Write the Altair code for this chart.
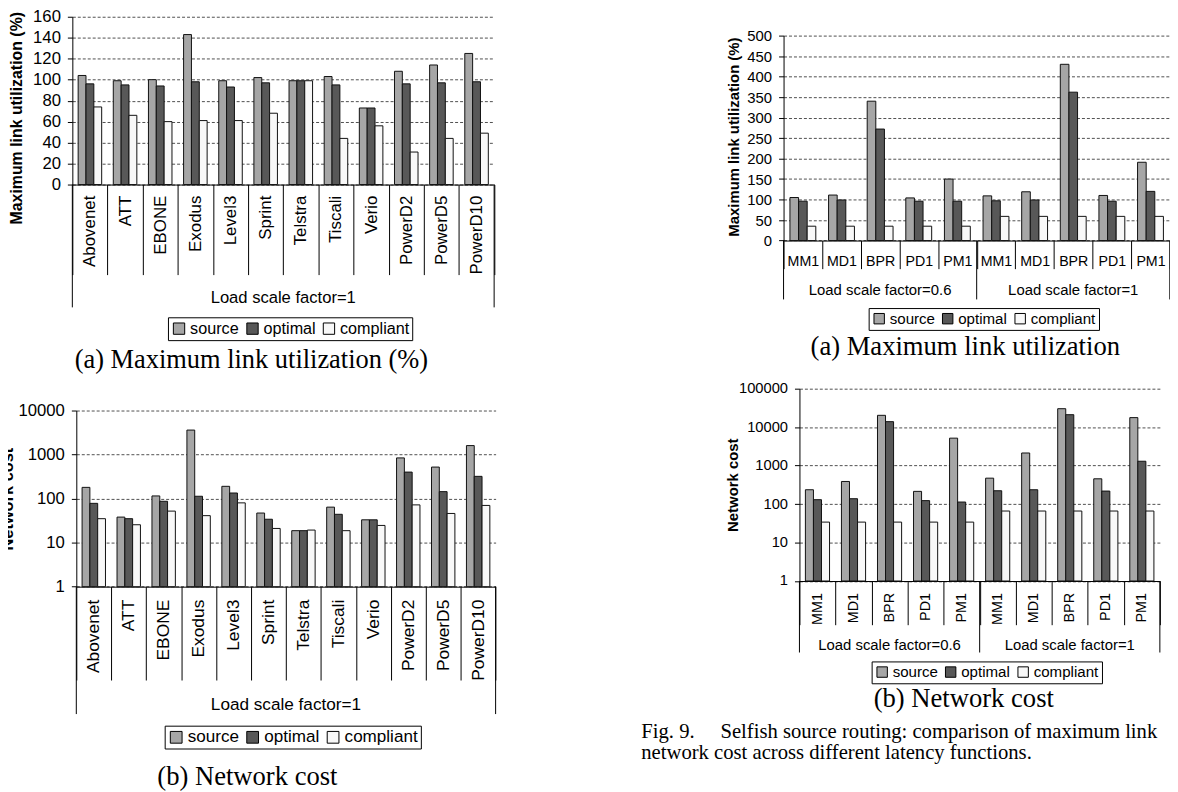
import altair as alt
import pandas as pd

SANS = "Liberation Sans"
SERIF = "Liberation Serif"

series = ["source", "optimal", "compliant"]
series_colors = ["#a6a6a6", "#585858", "#f8f8f8"]

# Left column: topologies, load scale factor = 1
topologies = ["Abovenet", "ATT", "EBONE", "Exodus", "Level3", "Sprint",
              "Telstra", "Tiscali", "Verio", "PowerD2", "PowerD5", "PowerD10"]
topo_util_source = [104, 99, 100, 143, 99, 102, 99, 103, 73, 108, 114, 125]
topo_util_optimal = [96, 95, 94, 98, 93, 97, 99, 95, 73, 96, 97, 98]
topo_util_compliant = [74, 66, 60, 61, 61, 68, 99, 44, 56, 31, 44, 49]
topo_cost_source = [180, 38, 115, 3600, 190, 47, 18.7, 64, 33, 840, 520, 1600]
topo_cost_optimal = [78, 35, 87, 113, 134, 34, 18.7, 44, 33, 400, 144, 320]
topo_cost_compliant = [35, 25.5, 52, 41, 80, 21, 19.3, 18.7, 24.6, 72, 46, 70]

# Right column: latency functions at two load scale factors
latency_functions = ["MM1", "MD1", "BPR", "PD1", "PM1"]
load_factors = ["0.6", "1"]
lat_util_source = [105, 111, 340, 104, 150, 109, 119, 430, 110, 191]
lat_util_optimal = [96, 99, 272, 96, 96, 97, 99, 362, 96, 120]
lat_util_compliant = [35, 35, 35, 35, 35, 59, 59, 59, 59, 59]
lat_cost_source = [236, 387, 20300, 214, 5180, 472, 2130, 30200, 454, 17700]
lat_cost_optimal = [130, 138, 13900, 123, 113, 222, 236, 21100, 218, 1300]
lat_cost_compliant = [34, 34, 34, 34, 34, 66, 66, 66, 66, 66]

lat_keys = [f"{lf}|{fn}" for lf in load_factors for fn in latency_functions]

NB = "\u00a0"
fig_line1 = "Fig. 9." + NB * 5 + "Selfish source routing: comparison of maximum link"
fig_line2 = "network cost across different latency functions."


def panel(keys, src, opt, cmp_, c):
    rows = []
    for k, a, b, d in zip(keys, src, opt, cmp_):
        for s_, v in zip(series, (a, b, d)):
            rows.append({"cat": k, "series": s_, "value": v})
    df = pd.DataFrame(rows)

    x_scale = alt.Scale(domain=keys, range=c["x_range"], paddingInner=0, paddingOuter=0)
    axis_kw = dict(title=None, labelAngle=c["lab_angle"], labelAlign=c["lab_align"],
                   labelBaseline="middle", labelFont=SANS, labelFontSize=c["lab_size"],
                   labelColor="black", labelPadding=c["lab_pad"], labelOverlap=False,
                   labelLimit=0, tickBand="extent", tickSize=c["sep_len"],
                   tickColor="black", tickWidth=1, domainColor="black", domainWidth=1,
                   grid=False)
    if c.get("label_expr"):
        axis_kw["labelExpr"] = c["label_expr"]
    y_kw = dict(domain=c["y_domain"], range=c["y_range"], nice=False)
    if c["log"]:
        y_kw["type"] = "log"
    y_axis = alt.Axis(values=c["y_ticks"], format="d", offset=c["y_offset"],
                      labelFont=SANS, labelFontSize=c["y_lab_size"], labelColor="black",
                      labelPadding=7, tickSize=5, tickColor="black", tickWidth=1,
                      domainColor="black", domainWidth=1, grid=True, gridColor="#3c3c3c",
                      gridDash=[3, 2], gridWidth=0.9,
                      titleFont=SANS, titleFontSize=c["y_title_size"], titleFontWeight="bold",
                      titleColor="black", titleAngle=270, titleBaseline="alphabetic",
                      titleAlign="center", titleX=c["y_title_x"], titleY=c["y_title_y"])
    legend = alt.Legend(orient="none", legendX=c["leg_x"], legendY=c["leg_y"],
                        direction="horizontal", columns=3, title=None,
                        strokeColor="black", fillColor="white", padding=3,
                        cornerRadius=0, symbolType="square", symbolSize=c["leg_sym"],
                        symbolStrokeColor="black", symbolStrokeWidth=1,
                        labelFont=SANS, labelFontSize=c["leg_size"], labelColor="black",
                        labelOffset=3, columnPadding=5, labelLimit=0)

    bars = alt.Chart(df).mark_bar(stroke="#111111", strokeWidth=1).encode(
        x=alt.X("cat:N", scale=x_scale, axis=alt.Axis(**axis_kw), title=None),
        xOffset=alt.XOffset("series:N", sort=series,
                            scale=alt.Scale(domain=series, paddingInner=0, paddingOuter=0.74)),
        y=alt.Y("value:Q", scale=alt.Scale(**y_kw), axis=y_axis, title=c["y_title"], stack=None),
        color=alt.Color("series:N", scale=alt.Scale(domain=series, range=series_colors),
                        legend=legend),
    )

    h = c["plot_bottom"]
    starts = alt.Chart(pd.DataFrame({"cat": c["group_first"]})).mark_rule(
        color="black", strokeWidth=1).encode(
        x=alt.X("cat:N", scale=x_scale, bandPosition=0, title=None),
        y=alt.value(h), y2=alt.value(h + c["grp_len"]))
    ends = alt.Chart(pd.DataFrame({"cat": [keys[-1]]})).mark_rule(
        color="black", strokeWidth=1).encode(
        x=alt.X("cat:N", scale=x_scale, bandPosition=1, title=None),
        y=alt.value(h), y2=alt.value(h + c["grp_len"]))
    glabels = alt.Chart(pd.DataFrame({"cat": c["group_mid"], "label": c["group_labels"]})).mark_text(
        font=SANS, fontSize=c["grp_size"], color="black", align="center", baseline="middle").encode(
        x=alt.X("cat:N", scale=x_scale, bandPosition=c["group_band"], title=None),
        y=alt.value(c["grp_y"]), text="label:N")

    layers = [bars, starts, ends, glabels]
    for txt, tx, ty, size, align in c["texts"]:
        layers.append(
            alt.Chart(pd.DataFrame({"t": [txt]})).mark_text(
                font=SERIF, fontSize=size, color="black", align=align, baseline="middle").encode(
                x=alt.value(tx), y=alt.value(ty), text="t:N"))
    return alt.layer(*layers).properties(width=c["w"], height=c["h"])


A1 = panel(topologies, topo_util_source, topo_util_optimal, topo_util_compliant, dict(
    w=424.8, h=169, x_range=[0, 424.8], y_range=[169, 0], plot_bottom=169,
    log=False, y_domain=[0, 160], y_ticks=list(range(0, 161, 20)), y_offset=0,
    y_lab_size=16.8, y_title="Maximum link utilization (%)", y_title_size=16,
    y_title_x=-51.7, y_title_y=101.7,
    lab_angle=-90, lab_align="right", lab_size=17, lab_pad=-80, sep_len=90.7,
    grp_len=123.7, grp_y=283.7, grp_size=16.7,
    group_first=["Abovenet"], group_mid=["Telstra"], group_labels=["Load scale factor=1"], group_band=0,
    leg_x=96.3, leg_y=302.7, leg_size=16.3, leg_sym=130,
    texts=[("(a) Maximum link utilization (%)", 180.3, 345.7, 26.6, "center")],
))

B1 = panel(topologies, topo_cost_source, topo_cost_optimal, topo_cost_compliant, dict(
    w=426.3, h=199.4, x_range=[4, 426.3], y_range=[199.4, 22], plot_bottom=199.4,
    log=True, y_domain=[1, 10000], y_ticks=[1, 10, 100, 1000, 10000], y_offset=-4,
    y_lab_size=16.8, y_title="Network cost", y_title_size=16.5,
    y_title_x=-64.7, y_title_y=110.7,
    lab_angle=-90, lab_align="right", lab_size=17.5, lab_pad=-81.4, sep_len=94,
    grp_len=128.3, grp_y=318.4, grp_size=17.3,
    group_first=["Abovenet"], group_mid=["Telstra"], group_labels=["Load scale factor=1"], group_band=0,
    leg_x=93, leg_y=339.4, leg_size=17.2, leg_sym=140,
    texts=[("(b) Network cost", 176.3, 391.0, 26.8, "center")],
))

A2 = panel(lat_keys, lat_util_source, lat_util_optimal, lat_util_compliant, dict(
    w=389, h=225.4, x_range=[0, 389], y_range=[225.4, 19], plot_bottom=225.4,
    log=False, y_domain=[0, 500], y_ticks=list(range(0, 501, 50)), y_offset=0,
    y_lab_size=15, y_title="Maximum link utilization (%)", y_title_size=15,
    y_title_x=-45.3, y_title_y=120.7,
    lab_angle=0, lab_align="center", lab_size=14.3, lab_pad=-7, sep_len=28.3,
    label_expr="split(datum.label, '|')[1]",
    grp_len=59.3, grp_y=275.7, grp_size=15,
    group_first=["0.6|MM1", "1|MM1"], group_mid=["0.6|BPR", "1|BPR"],
    group_labels=["Load scale factor=0.6", "Load scale factor=1"], group_band=0.5,
    leg_x=85.7, leg_y=293.4, leg_size=15.2, leg_sym=110,
    texts=[("(a) Maximum link utilization", 183, 332.7, 26.8, "center")],
))

B2 = panel(lat_keys, lat_cost_source, lat_cost_optimal, lat_cost_compliant, dict(
    w=379, h=193.7, x_range=[16, 379], y_range=[193.7, 0], plot_bottom=193.7,
    log=True, y_domain=[1, 100000], y_ticks=[1, 10, 100, 1000, 10000, 100000], y_offset=-16,
    y_lab_size=14.8, y_title="Network cost", y_title_size=15,
    y_title_x=-62.3, y_title_y=96.7,
    lab_angle=-90, lab_align="right", lab_size=14.5, lab_pad=-32.5, sep_len=44,
    label_expr="split(datum.label, '|')[1]",
    grp_len=72, grp_y=257.7, grp_size=15,
    group_first=["0.6|MM1", "1|MM1"], group_mid=["0.6|BPR", "1|BPR"],
    group_labels=["Load scale factor=0.6", "Load scale factor=1"], group_band=0.5,
    leg_x=88.7, leg_y=274.7, leg_size=15.2, leg_sym=110,
    texts=[("(b) Network cost", 181.5, 312.7, 26.8, "center"),
           (fig_line1, -143.3, 345.6, 20.8, "left"),
           (fig_line2, -143.3, 367.4, 20.8, "left")],
))

chart = alt.concat(
    A1, A2, B1, B2, columns=2,
    spacing={"row": 148.6, "column": 289.3}, bounds="flush", align="each",
).resolve_scale(
    x="independent", y="independent", color="independent", xOffset="independent"
).resolve_axis(
    x="independent", y="independent"
).resolve_legend(
    color="independent"
).properties(
    padding={"left": -9.2, "top": -2.0, "right": -0.5, "bottom": 0},
    background="white",
).configure_view(stroke=None)

chart.save("out.html", embed_options={"renderer": "svg", "actions": False})
